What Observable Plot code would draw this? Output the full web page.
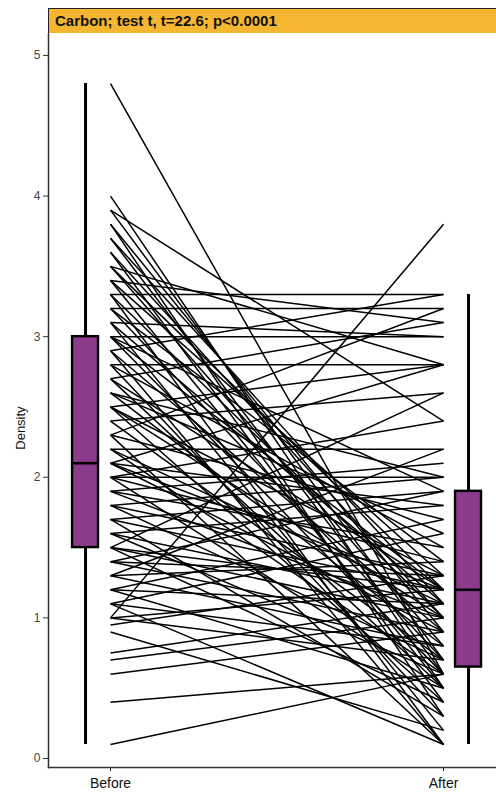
<!DOCTYPE html>
<html>
<head>
<meta charset="utf-8">
<script src="https://cdn.jsdelivr.net/npm/d3@7"></script>
<script src="https://cdn.jsdelivr.net/npm/@observablehq/plot@0.6"></script>
<style>
  html, body { margin: 0; padding: 0; background: #fff; }
  body { width: 496px; height: 796px; overflow: hidden; font-family: "Liberation Sans", Arial, sans-serif; }
  #strip {
    position: absolute; left: 48px; top: 8px; width: 449px; height: 26px;
    box-sizing: border-box; background: #f5b632; border: 1px solid #222;
    font-weight: bold; font-size: 15px; line-height: 23px; padding-left: 6px; color: #111;
  }
  #chart { position: absolute; left: 0; top: 33px; }
</style>
</head>
<body>
<div id="strip">Carbon; test t, t=22.6; p&lt;0.0001</div>
<div id="chart"></div>
<script>
const title = "Carbon; test t, t=22.6; p<0.0001";
const groups = ["Before", "After"];
const yTicks = [0, 1, 2, 3, 4, 5];
const yLabel = "Density";

// paired values (Before -> After)
const before = [
  4.8, 4.0, 3.9, 3.9, 3.8, 3.8, 3.7, 3.7, 3.6, 3.6,
  3.5, 3.5, 3.5, 3.4, 3.4, 3.4, 3.3, 3.3, 3.3, 3.2,
  3.2, 3.2, 3.1, 3.1, 3.1, 3.0, 3.0, 3.0, 3.0, 2.9,
  2.9, 2.9, 2.8, 2.8, 2.8, 2.7, 2.7, 2.7, 2.6, 2.6,
  2.6, 2.5, 2.5, 2.5, 2.5, 2.4, 2.4, 2.3, 2.3, 2.3,
  2.2, 2.2, 2.2, 2.1, 2.1, 2.1, 2.1, 2.0, 2.0, 2.0,
  2.0, 1.9, 1.9, 1.9, 1.8, 1.8, 1.8, 1.7, 1.7, 1.7,
  1.6, 1.6, 1.6, 1.5, 1.5, 1.5, 1.5, 1.4, 1.4, 1.4,
  1.3, 1.3, 1.3, 1.2, 1.2, 1.2, 1.1, 1.1, 1.1, 1.0,
  1.0, 1.0, 0.95, 0.9, 0.75, 0.7, 0.6, 0.4, 0.1
];
const after = [
  0.6, 0.5, 2.4, 0.7, 0.9, 0.3, 1.1, 0.6, 1.0, 0.4,
  1.2, 0.8, 2.8, 0.5, 1.3, 3.1, 3.3, 1.0, 0.1, 3.2,
  0.7, 1.4, 3.0, 1.1, 0.2, 3.0, 1.2, 0.6, 1.9, 3.3,
  0.9, 0.1, 2.8, 1.5, 0.3, 3.1, 1.2, 0.5, 2.0, 0.8,
  1.6, 2.8, 1.0, 0.4, 1.3, 2.6, 0.7, 3.2, 1.7, 0.1,
  2.2, 1.1, 0.6, 2.8, 1.2, 0.9, 1.8, 2.4, 1.4, 0.5,
  2.0, 2.1, 1.0, 1.5, 2.0, 0.7, 1.3, 1.9, 1.2, 0.3,
  1.8, 1.1, 0.6, 2.6, 1.0, 1.2, 0.4, 1.9, 0.9, 1.3,
  2.2, 1.4, 0.8, 1.7, 1.1, 0.5, 1.6, 0.8, 0.1, 3.8,
  1.2, 0.7, 1.3, 0.2, 1.1, 1.0, 0.9, 0.6, 0.6
];

// box-plot statistics
const boxQ1 = [1.5, 0.65];
const boxMedian = [2.1, 1.2];
const boxQ3 = [3.0, 1.9];
const whiskerLow = [0.1, 0.1];
const whiskerHigh = [4.8, 3.3];

const pairs = before.map((b, i) => ({b, a: after[i]}));
const boxOffset = 0.075, halfWidth = 0.039;
const boxes = groups.map((g, i) => ({
  g, x: (i + 1) + (i === 0 ? -boxOffset : boxOffset),
  q1: boxQ1[i], med: boxMedian[i], q3: boxQ3[i], lo: whiskerLow[i], hi: whiskerHigh[i]
}));

const xDomain = [0.8138, 2.159];
const chart = Plot.plot({
  width: 496, height: 763,
  marginTop: 0, marginBottom: 29, marginLeft: 48, marginRight: 0,
  style: {fontFamily: "'Liberation Sans', Arial, sans-serif", background: "#fff"},
  x: {domain: xDomain, axis: null},
  y: {domain: [-0.064, 5.156], axis: null},
  marks: [
    Plot.link(pairs, {x1: () => 1, x2: () => 2, y1: "b", y2: "a", stroke: "#000", strokeWidth: 1.5}),
    Plot.ruleX(boxes, {x: "x", y1: "lo", y2: "hi", stroke: "#000", strokeWidth: 3}),
    Plot.rect(boxes, {x1: d => d.x - halfWidth, x2: d => d.x + halfWidth, y1: "q1", y2: "q3",
      fill: "#8c3a8c", stroke: "#000", strokeWidth: 2.4}),
    Plot.ruleY(boxes, {x1: d => d.x - halfWidth, x2: d => d.x + halfWidth, y: "med", stroke: "#000", strokeWidth: 2.6}),
    Plot.axisY({ticks: yTicks, tickFormat: d3.format("d"), tickSize: 5, tickPadding: 3, label: null, fontSize: 12, color: "#444", stroke: "#333"}),
    Plot.axisX({ticks: [1, 2], tickFormat: d => groups[d - 1], tickSize: 4, tickPadding: 7, label: null, fontSize: 14, color: "#111"}),
    Plot.frame({anchor: "left", stroke: "#333", strokeWidth: 1.5}),
    Plot.frame({anchor: "bottom", stroke: "#333", strokeWidth: 1.5}),
    Plot.text([yLabel], {x: () => xDomain[0], y: () => 2.35, text: d => d, rotate: -90, dx: -28,
      fontSize: 13, fill: "#111"})
  ]
});
document.getElementById("chart").appendChild(chart);
</script>
</body>
</html>
